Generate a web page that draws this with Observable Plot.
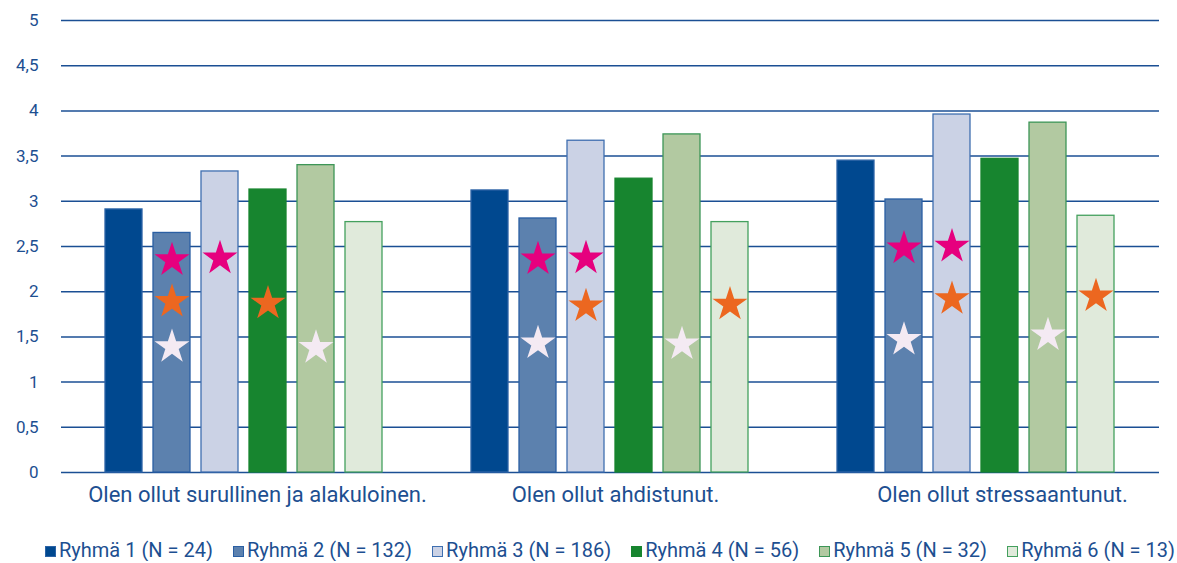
<!DOCTYPE html>
<html><head><meta charset="utf-8">
<script src="https://cdn.jsdelivr.net/npm/d3@7"></script>
<script src="https://cdn.jsdelivr.net/npm/@observablehq/plot@0.6"></script>
<style>
body{margin:0;background:#fff;font-family:Roboto,sans-serif;color:#1d4f91}
#chart svg{display:block}
#legend{display:flex;justify-content:space-between;width:1130px;margin:19px 0 0 45px;font-size:20px;line-height:22px;white-space:nowrap}
.item{display:flex;align-items:center;gap:3px}
.sw{width:11px;height:11px;box-sizing:border-box;border:1px solid;margin-top:2px}
</style></head><body>
<div id="chart"></div><div id="legend"></div>
<script>
const categories = ["Olen ollut surullinen ja alakuloinen.", "Olen ollut ahdistunut.", "Olen ollut stressaantunut."];
const groups = ["Ryhmä 1 (N = 24)", "Ryhmä 2 (N = 132)", "Ryhmä 3 (N = 186)", "Ryhmä 4 (N = 56)", "Ryhmä 5 (N = 32)", "Ryhmä 6 (N = 13)"];
const valuesSurullinen = [2.91, 2.65, 3.33, 3.13, 3.40, 2.77];
const valuesAhdistunut = [3.12, 2.81, 3.67, 3.25, 3.74, 2.77];
const valuesStressaantunut = [3.45, 3.02, 3.96, 3.47, 3.87, 2.84];
const groupFills = ["#00488f", "#5c81ae", "#cbd2e5", "#17852f", "#b2c9a1", "#e0eadb"];
const groupStrokes = ["#2b63a6", "#2a5fa3", "#3f6fb0", "#17852f", "#3d9657", "#44a05e"];
const yTicks = [0, 0.5, 1, 1.5, 2, 2.5, 3, 3.5, 4, 4.5, 5];
const yTickLabels = ["0", "0,5", "1", "1,5", "2", "2,5", "3", "3,5", "4", "4,5", "5"];
// significance stars: category index, group index, star type, value level
const starCategory = [0, 0, 0, 0, 0, 0, 1, 1, 1, 1, 1, 1, 2, 2, 2, 2, 2, 2];
const starGroup    = [1, 1, 1, 2, 3, 4, 1, 1, 2, 2, 4, 5, 1, 1, 2, 2, 4, 5];
const starType     = ["pink", "orange", "white", "pink", "orange", "white", "pink", "white", "pink", "orange", "white", "orange", "pink", "white", "pink", "orange", "white", "orange"];
const starValue    = [2.35, 1.89, 1.39, 2.37, 1.87, 1.38, 2.36, 1.43, 2.37, 1.84, 1.42, 1.86, 2.48, 1.47, 2.50, 1.92, 1.52, 1.95];
const starColors = {pink: "#e6007e", orange: "#ec6720", white: "#f4eaf3"};
// horizontal nudge of each category label (as in the original layout)
const labelNudge = [13, 5, 26];

const seriesValues = [valuesSurullinen, valuesAhdistunut, valuesStressaantunut];
const rows = [];
categories.forEach((c, ci) => groups.forEach((g, gi) => rows.push({cat: c, group: g, value: seriesValues[ci][gi], fill: groupFills[gi], stroke: groupStrokes[gi]})));
const stars = starCategory.map((ci, i) => ({cat: categories[ci], group: groups[starGroup[i]], value: starValue[i], color: starColors[starType[i]]}));

const textColor = "#1d4f91";
const chart = Plot.plot({
  width: 1177, height: 520,
  marginTop: 20, marginBottom: 48, marginLeft: 60, marginRight: 17,
  style: {fontFamily: "Roboto, sans-serif", fontSize: "17px", color: textColor, background: "white"},
  fx: {domain: categories, padding: 0, label: null, axis: null},
  x: {domain: groups, paddingInner: 0.224, paddingOuter: 0.853, axis: null},
  y: {domain: [0, 5], axis: null},
  color: {type: "identity"},
  marks: [
    Plot.ruleY(yTicks, {stroke: "#1b4f94", strokeWidth: 1.5}),
    Plot.axisY(yTicks, {tickSize: 0, tickPadding: 23, tickFormat: d => yTickLabels[yTicks.indexOf(d)], label: null, fill: textColor}),
    Plot.barY(rows, {fx: "cat", x: "group", y: "value", fill: "fill", stroke: "stroke", strokeWidth: 1.3}),
    Plot.dot(stars, {fx: "cat", x: "group", y: "value", symbol: "star", r: 11, fill: "color"}),
    ...categories.map((c, i) => Plot.text([c], {fx: d => d, text: d => d, frameAnchor: "bottom", dy: 29, dx: labelNudge[i], fontSize: 22, fill: textColor}))
  ]
});
document.getElementById("chart").appendChild(chart);

const legend = document.getElementById("legend");
groups.forEach((g, i) => {
  const item = document.createElement("div");
  item.className = "item";
  const sw = document.createElement("span");
  sw.className = "sw";
  sw.style.background = groupFills[i];
  sw.style.borderColor = groupStrokes[i];
  const t = document.createElement("span");
  t.textContent = g;
  item.appendChild(sw); item.appendChild(t);
  legend.appendChild(item);
});
</script>
</body></html>
